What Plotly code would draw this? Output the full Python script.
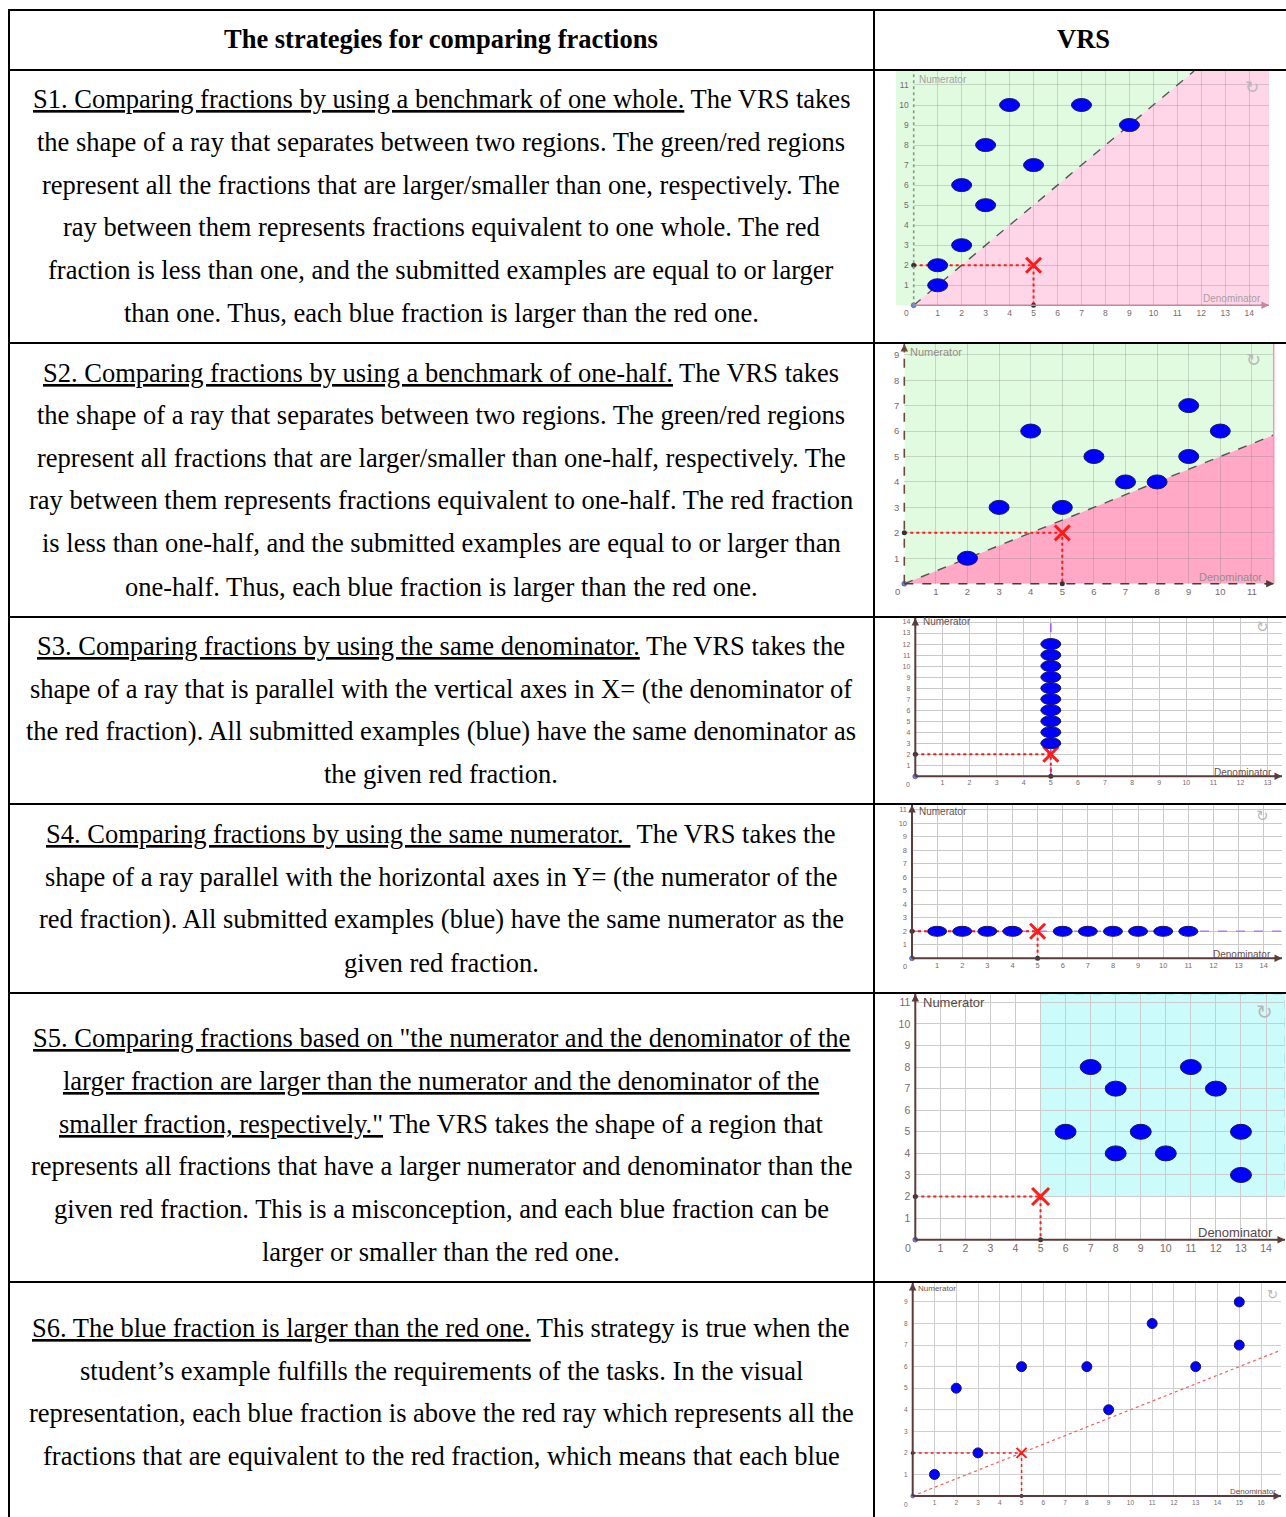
import plotly.graph_objects as go

W, H = 1286, 1517

# ---------------- table text ----------------
header_left = "The strategies for comparing fractions"
header_right = "VRS"

s1_text = [
    "<u>S1. Comparing fractions by using a benchmark of one whole.</u> The VRS takes",
    "the shape of a ray that separates between two regions. The green/red regions",
    "represent all the fractions that are larger/smaller than one, respectively. The",
    "ray between them represents fractions equivalent to one whole. The red",
    "fraction is less than one, and the submitted examples are equal to or larger",
    "than one. Thus, each blue fraction is larger than the red one.",
]
s2_text = [
    "<u>S2. Comparing fractions by using a benchmark of one-half.</u> The VRS takes",
    "the shape of a ray that separates between two regions. The green/red regions",
    "represent all fractions that are larger/smaller than one-half, respectively. The",
    "ray between them represents fractions equivalent to one-half. The red fraction",
    "is less than one-half, and the submitted examples are equal to or larger than",
    "one-half. Thus, each blue fraction is larger than the red one.",
]
s3_text = [
    "<u>S3. Comparing fractions by using the same denominator.</u> The VRS takes the",
    "shape of a ray that is parallel with the vertical axes in X= (the denominator of",
    "the red fraction). All submitted examples (blue) have the same denominator as",
    "the given red fraction.",
]
s4_text = [
    "<u>S4. Comparing fractions by using the same numerator. </u> The VRS takes the",
    "shape of a ray parallel with the horizontal axes in Y= (the numerator of the",
    "red fraction). All submitted examples (blue) have the same numerator as the",
    "given red fraction.",
]
s5_text = [
    "<u>S5. Comparing fractions based on \"the numerator and the denominator of the</u>",
    "<u>larger fraction are larger than the numerator and the denominator of the</u>",
    "<u>smaller fraction, respectively.\"</u> The VRS takes the shape of a region that",
    "represents all fractions that have a larger numerator and denominator than the",
    "given red fraction. This is a misconception, and each blue fraction can be",
    "larger or smaller than the red one.",
]
s6_text = [
    "<u>S6. The blue fraction is larger than the red one.</u> This strategy is true when the",
    "student\u2019s example fulfills the requirements of the tasks. In the visual",
    "representation, each blue fraction is above the red ray which represents all the",
    "fractions that are equivalent to the red fraction, which means that each blue",
]

# ---------------- chart data ----------------
red_den = 5
red_num = 2

s1_den = [1, 1, 2, 2, 3, 3, 4, 5, 7, 9]
s1_num = [1, 2, 3, 6, 5, 8, 10, 7, 10, 9]
s1_benchmark = 1.0

s2_den = [2, 3, 4, 5, 6, 7, 8, 9, 9, 10]
s2_num = [1, 3, 6, 3, 5, 4, 4, 5, 7, 6]
s2_benchmark = 0.5

s3_den = [5, 5, 5, 5, 5, 5, 5, 5, 5, 5]
s3_num = [3, 4, 5, 6, 7, 8, 9, 10, 11, 12]

s4_den = [1, 2, 3, 4, 6, 7, 8, 9, 10, 11]
s4_num = [2, 2, 2, 2, 2, 2, 2, 2, 2, 2]

s5_den = [6, 7, 8, 8, 9, 10, 11, 12, 13, 13]
s5_num = [5, 8, 7, 4, 5, 4, 8, 7, 5, 3]

s6_den = [1, 2, 3, 5, 8, 9, 11, 13, 15, 15]
s6_num = [1, 5, 2, 6, 6, 4, 8, 6, 7, 9]

s1_xticks = [1, 2, 3, 4, 5, 6, 7, 8, 9, 10, 11, 12, 13, 14]
s1_yticks = [1, 2, 3, 4, 5, 6, 7, 8, 9, 10, 11]
s2_xticks = [1, 2, 3, 4, 5, 6, 7, 8, 9, 10, 11]
s2_yticks = [1, 2, 3, 4, 5, 6, 7, 8, 9]
s3_xticks = [1, 2, 3, 4, 5, 6, 7, 8, 9, 10, 11, 12, 13]
s3_yticks = [1, 2, 3, 4, 5, 6, 7, 8, 9, 10, 11, 12, 13, 14]
s4_xticks = [1, 2, 3, 4, 5, 6, 7, 8, 9, 10, 11, 12, 13, 14]
s4_yticks = [1, 2, 3, 4, 5, 6, 7, 8, 9, 10, 11]
s5_xticks = [1, 2, 3, 4, 5, 6, 7, 8, 9, 10, 11, 12, 13, 14]
s5_yticks = [1, 2, 3, 4, 5, 6, 7, 8, 9, 10, 11]
s6_xticks = [1, 2, 3, 4, 5, 6, 7, 8, 9, 10, 11, 12, 13, 14, 15, 16]
s6_yticks = [1, 2, 3, 4, 5, 6, 7, 8, 9]

# ---------------- layout geometry (pixels) ----------------
header_y = 39
text_cx = 441
row_lines = [70, 343, 617, 804, 993, 1282]
col_sep = 874
text_rows = [
    (s1_text, [99, 142, 185, 227, 270, 313]),
    (s2_text, [373, 415, 458, 500, 543, 587]),
    (s3_text, [646, 689, 731, 774]),
    (s4_text, [834, 877, 919, 963]),
    (s5_text, [1038, 1081, 1124, 1166, 1209, 1252]),
    (s6_text, [1328, 1371, 1413, 1456]),
]

TEXT_FONT = "Liberation Serif"
TEXT_SIZE = 26.5
AX_FONT = "Liberation Sans"
BLUE = "#0000ff"
RED = "#ff1a1a"
AXBROWN = "#5b3b3b"
TICKCOL = "#7b6868"


def PX(x):
    return x / W


def PY(y):
    return 1 - y / H


fig = go.Figure()
shapes = []
annotations = []

# header texts
annotations.append(dict(xref="paper", yref="paper", x=PX(text_cx), y=PY(header_y),
                        text="<b>" + header_left + "</b>", showarrow=False,
                        xanchor="center", yanchor="middle",
                        font=dict(family=TEXT_FONT, size=TEXT_SIZE, color="black")))
annotations.append(dict(xref="paper", yref="paper", x=PX(1083), y=PY(header_y),
                        text="<b>" + header_right + "</b>", showarrow=False,
                        xanchor="center", yanchor="middle",
                        font=dict(family=TEXT_FONT, size=TEXT_SIZE, color="black")))
for lines, ys in text_rows:
    for t, yy in zip(lines, ys):
        annotations.append(dict(xref="paper", yref="paper", x=PX(text_cx), y=PY(yy),
                                text=t, showarrow=False, xanchor="center", yanchor="middle",
                                font=dict(family=TEXT_FONT, size=TEXT_SIZE, color="black")))

charts = [
    dict(den=s1_den, num=s1_num, xt=s1_xticks, yt=s1_yticks, kind="ray", k=s1_benchmark,
         ox=913.7, oy=305.3, ux=23.97, uy=20.03, right=1269, top=71,
         green="#e0fbe0", pink="#ffd6e8", grid="rgba(120,120,120,0.28)",
         dot=(20, 13), xs=15, tf=8.5, lf=10, lcol="#a8a0a0", icon=(1252, 87, 17),
         num_lab=(917, 79), den_lab=(1263, 298),
         xline=dict(color="#c9849c", width=1.6, dash="solid"),
         yline=dict(color="#7fa07f", width=1.6, dash="dot"), yarrow=False),
    dict(den=s2_den, num=s2_num, xt=s2_xticks, yt=s2_yticks, kind="ray", k=s2_benchmark,
         ox=904.3, oy=583.7, ux=31.6, uy=25.44, right=1273.7, top=344,
         green="#e0fbe0", pink="#ffa9c6", grid="rgba(120,120,120,0.28)",
         dot=(20, 14), xs=15, tf=9.5, lf=11, lcol="#9a8a8a", icon=(1253, 360, 18),
         num_lab=(908, 352), den_lab=(1264, 577),
         xline=dict(color="#4a3a3a", width=1.6, dash="dash"),
         yline=dict(color="#6a4a3a", width=1.6, dash="dash"), yarrow=True),
    dict(den=s3_den, num=s3_num, xt=s3_xticks, yt=s3_yticks, kind="vline",
         ox=915.3, oy=776.3, ux=27.1, uy=11.02, right=1282, top=618,
         grid="#c9c9c9", dot=(20, 11), xs=15, tf=7, lf=10, lcol="#6a5050",
         icon=(1262, 627, 15), num_lab=(921, 621), den_lab=(1274, 772),
         xline=dict(color=AXBROWN, width=2, dash="solid"),
         yline=dict(color=AXBROWN, width=2, dash="solid"), yarrow=True),
    dict(den=s4_den, num=s4_num, xt=s4_xticks, yt=s4_yticks, kind="hline",
         ox=912, oy=958.3, ux=25.12, uy=13.5, right=1282, top=805,
         grid="#c9c9c9", dot=(19, 10), xs=15, tf=7.5, lf=10, lcol="#6a5050",
         icon=(1262, 816, 15), num_lab=(917, 811), den_lab=(1273, 954),
         xline=dict(color=AXBROWN, width=2, dash="solid"),
         yline=dict(color=AXBROWN, width=2, dash="solid"), yarrow=True),
    dict(den=s5_den, num=s5_num, xt=s5_xticks, yt=s5_yticks, kind="region",
         ox=915.3, oy=1239.7, ux=25.05, uy=21.58, right=1285, top=994,
         grid="#cccccc", dot=(21, 15), xs=17, tf=10.5, lf=13, lcol="#5a4848",
         icon=(1264, 1012, 20), num_lab=(921, 1002), den_lab=(1275, 1232),
         xline=dict(color=AXBROWN, width=2, dash="solid"),
         yline=dict(color=AXBROWN, width=2, dash="solid"), yarrow=True),
    dict(den=s6_den, num=s6_num, xt=s6_xticks, yt=s6_yticks, kind="redray",
         ox=912.7, oy=1496, ux=21.77, uy=21.56, right=1281, top=1283,
         grid="#cfcfcf", dot=(10, 10), xs=10, tf=6.5, lf=8, lcol="#6a5050",
         icon=(1272, 1294, 13), num_lab=(916, 1288), den_lab=(1278, 1491),
         xline=dict(color=AXBROWN, width=2, dash="solid"),
         yline=dict(color=AXBROWN, width=2, dash="solid"), yarrow=True),
]

layout_axes = {}

for i, c in enumerate(charts, start=1):
    xname = "xaxis" if i == 1 else f"xaxis{i}"
    yname = "yaxis" if i == 1 else f"yaxis{i}"
    xr = "x" if i == 1 else f"x{i}"
    yr = "y" if i == 1 else f"y{i}"
    xmax = (c["right"] - c["ox"]) / c["ux"]
    ymax = (c["oy"] - c["top"]) / c["uy"]
    tickfont = dict(family=AX_FONT, size=c["tf"], color=TICKCOL)
    layout_axes[xname] = dict(domain=[PX(c["ox"]), PX(c["right"])], range=[0, xmax],
                              anchor=yr, tickmode="array", tickvals=c["xt"],
                              ticktext=[str(v) for v in c["xt"]],
                              showgrid=True, gridcolor=c["grid"], gridwidth=1,
                              zeroline=False, showline=False, ticks="",
                              tickfont=tickfont, fixedrange=True, ticklabelstandoff=1)
    layout_axes[yname] = dict(domain=[PY(c["oy"]), PY(c["top"])], range=[0, ymax],
                              anchor=xr, tickmode="array", tickvals=c["yt"],
                              ticktext=[str(v) for v in c["yt"]],
                              showgrid=True, gridcolor=c["grid"], gridwidth=1,
                              zeroline=False, showline=False, ticks="",
                              tickfont=tickfont, fixedrange=True, ticklabelstandoff=4)

    # background regions
    if c["kind"] == "ray":
        k = c["k"]
        if ymax / k <= xmax:
            P = (ymax / k, ymax)
            green = f"M 0 0 L {P[0]} {P[1]} L 0 {ymax} Z"
            pink = f"M 0 0 L {xmax} 0 L {xmax} {ymax} L {P[0]} {P[1]} Z"
        else:
            P = (xmax, k * xmax)
            green = f"M 0 0 L {P[0]} {P[1]} L {xmax} {ymax} L 0 {ymax} Z"
            pink = f"M 0 0 L {xmax} 0 L {P[0]} {P[1]} Z"
        shapes.append(dict(type="path", xref=xr, yref=yr, path=green, fillcolor=c["green"],
                           line=dict(width=0), layer="below"))
        shapes.append(dict(type="path", xref=xr, yref=yr, path=pink, fillcolor=c["pink"],
                           line=dict(width=0), layer="below"))
        fig.add_trace(go.Scatter(x=[0, P[0]], y=[0, P[1]], mode="lines", xaxis=xr, yaxis=yr,
                                 line=dict(color="#555555", width=1.4, dash="dash"),
                                 showlegend=False, hoverinfo="skip"))
    if i == 1:
        shapes.append(dict(type="rect", xref="paper", yref="paper", x0=PX(896), x1=PX(c["ox"]),
                           y0=PY(c["oy"]), y1=PY(c["top"]), fillcolor=c["green"],
                           line=dict(width=0), layer="below"))
    if i == 2:
        shapes.append(dict(type="line", xref="paper", yref="paper", x0=PX(c["right"]),
                           x1=PX(c["right"]), y0=PY(c["oy"]), y1=PY(c["top"]),
                           line=dict(color="#ff8fb4", width=1.5), layer="above"))
    if c["kind"] == "region":
        shapes.append(dict(type="rect", xref=xr, yref=yr, x0=red_den, y0=red_num,
                           x1=xmax, y1=ymax, fillcolor="#ccfbfb",
                           line=dict(color="#86e3e3", width=1, dash="dash"), layer="below"))
    if c["kind"] == "vline":
        fig.add_trace(go.Scatter(x=[red_den, red_den], y=[0, ymax], mode="lines",
                                 xaxis=xr, yaxis=yr,
                                 line=dict(color="#a45cff", width=1.6, dash="dash"),
                                 showlegend=False, hoverinfo="skip"))
    if c["kind"] == "hline":
        fig.add_trace(go.Scatter(x=[0, xmax], y=[red_num, red_num], mode="lines",
                                 xaxis=xr, yaxis=yr,
                                 line=dict(color="#b07cff", width=1.6, dash="dash"),
                                 showlegend=False, hoverinfo="skip"))
    if c["kind"] == "redray":
        k = red_num / red_den
        fig.add_trace(go.Scatter(x=[0, xmax], y=[0, k * xmax], mode="lines",
                                 xaxis=xr, yaxis=yr,
                                 line=dict(color="#ff5a5a", width=1.2, dash="dot"),
                                 showlegend=False, hoverinfo="skip"))

    # red guide lines
    fig.add_trace(go.Scatter(x=[0, red_den, red_den], y=[red_num, red_num, 0], mode="lines",
                             xaxis=xr, yaxis=yr,
                             line=dict(color=RED, width=2 if i != 6 else 1.5, dash="dot"),
                             showlegend=False, hoverinfo="skip"))

    # axis lines (paper coords so they are not clipped)
    shapes.append(dict(type="line", xref="paper", yref="paper", x0=PX(c["ox"]), x1=PX(c["right"]),
                       y0=PY(c["oy"]), y1=PY(c["oy"]), line=c["xline"], layer="above"))
    shapes.append(dict(type="line", xref="paper", yref="paper", x0=PX(c["ox"]), x1=PX(c["ox"]),
                       y0=PY(c["oy"]), y1=PY(c["top"]), line=c["yline"], layer="above"))
    annotations.append(dict(xref="paper", yref="paper", x=PX(c["right"]), y=PY(c["oy"]),
                            ax=-10, ay=0, text="", showarrow=True, arrowhead=2, arrowsize=1,
                            arrowwidth=1.5, arrowcolor=c["xline"]["color"], standoff=0))
    if c["yarrow"]:
        annotations.append(dict(xref="paper", yref="paper", x=PX(c["ox"]), y=PY(c["top"]),
                                ax=0, ay=10, text="", showarrow=True, arrowhead=2, arrowsize=1,
                                arrowwidth=1.5, arrowcolor=c["yline"]["color"], standoff=0))

    # small points on axes
    fig.add_trace(go.Scatter(x=[0, red_den], y=[red_num, 0], mode="markers", xaxis=xr, yaxis=yr,
                             marker=dict(color="#333333", size=5 if i != 6 else 4),
                             cliponaxis=False, showlegend=False, hoverinfo="skip"))
    fig.add_trace(go.Scatter(x=[0], y=[0], mode="markers", xaxis=xr, yaxis=yr,
                             marker=dict(color="#7080d8", size=5 if i != 6 else 4,
                                         line=dict(color="#404080", width=0.5)),
                             cliponaxis=False, showlegend=False, hoverinfo="skip"))

    # red cross (the given fraction)
    fig.add_trace(go.Scatter(x=[red_den], y=[red_num], mode="markers", xaxis=xr, yaxis=yr,
                             marker=dict(symbol="x-thin", size=c["xs"], color=RED,
                                         line=dict(color=RED, width=3 if i != 6 else 2)),
                             cliponaxis=False, showlegend=False, hoverinfo="skip"))

    # blue fractions as ellipses (pixel-sized, anchored at data values)
    w, h = c["dot"]
    for d, n in zip(c["den"], c["num"]):
        shapes.append(dict(type="circle", xref=xr, yref=yr, xsizemode="pixel",
                           ysizemode="pixel", xanchor=d, yanchor=n,
                           x0=-w / 2, x1=w / 2, y0=-h / 2, y1=h / 2,
                           fillcolor=BLUE, line=dict(color="#1a1a50", width=1),
                           layer="above"))

    # labels
    annotations.append(dict(xref="paper", yref="paper", x=PX(c["num_lab"][0]),
                            y=PY(c["num_lab"][1]), text="Numerator", showarrow=False,
                            xanchor="left", yanchor="middle",
                            font=dict(family=AX_FONT, size=c["lf"], color=c["lcol"])))
    annotations.append(dict(xref="paper", yref="paper", x=PX(c["den_lab"][0]),
                            y=PY(c["den_lab"][1]), text="Denominator", showarrow=False,
                            xanchor="right", yanchor="middle",
                            font=dict(family=AX_FONT, size=c["lf"], color=c["lcol"])))
    annotations.append(dict(xref="paper", yref="paper", x=PX(c["ox"] - 7),
                            y=PY(c["oy"] + 8), text="0", showarrow=False,
                            xanchor="center", yanchor="middle",
                            font=dict(family=AX_FONT, size=c["tf"], color=TICKCOL)))
    ix, iy, isz = c["icon"]
    annotations.append(dict(xref="paper", yref="paper", x=PX(ix), y=PY(iy), text="\u21bb",
                            showarrow=False, xanchor="center", yanchor="middle",
                            font=dict(family="DejaVu Sans", size=isz, color="#b8b8b8")))

# table borders
LINE = dict(color="black", width=2)
shapes.append(dict(type="line", xref="paper", yref="paper", x0=PX(8), x1=1,
                   y0=PY(10), y1=PY(10), line=LINE, layer="above"))
shapes.append(dict(type="line", xref="paper", yref="paper", x0=PX(9), x1=PX(9),
                   y0=PY(10), y1=0, line=LINE, layer="above"))
shapes.append(dict(type="line", xref="paper", yref="paper", x0=PX(col_sep), x1=PX(col_sep),
                   y0=PY(10), y1=0, line=LINE, layer="above"))
for yy in row_lines:
    shapes.append(dict(type="line", xref="paper", yref="paper", x0=PX(8), x1=1,
                       y0=PY(yy), y1=PY(yy), line=LINE, layer="above"))

fig.update_layout(
    width=W, height=H, margin=dict(l=0, r=0, t=0, b=0),
    paper_bgcolor="white", plot_bgcolor="white",
    showlegend=False, shapes=shapes, annotations=annotations,
    **layout_axes,
)

fig.write_html("out.html", config={"displayModeBar": False},
               post_script="document.body.style.margin='0';")
